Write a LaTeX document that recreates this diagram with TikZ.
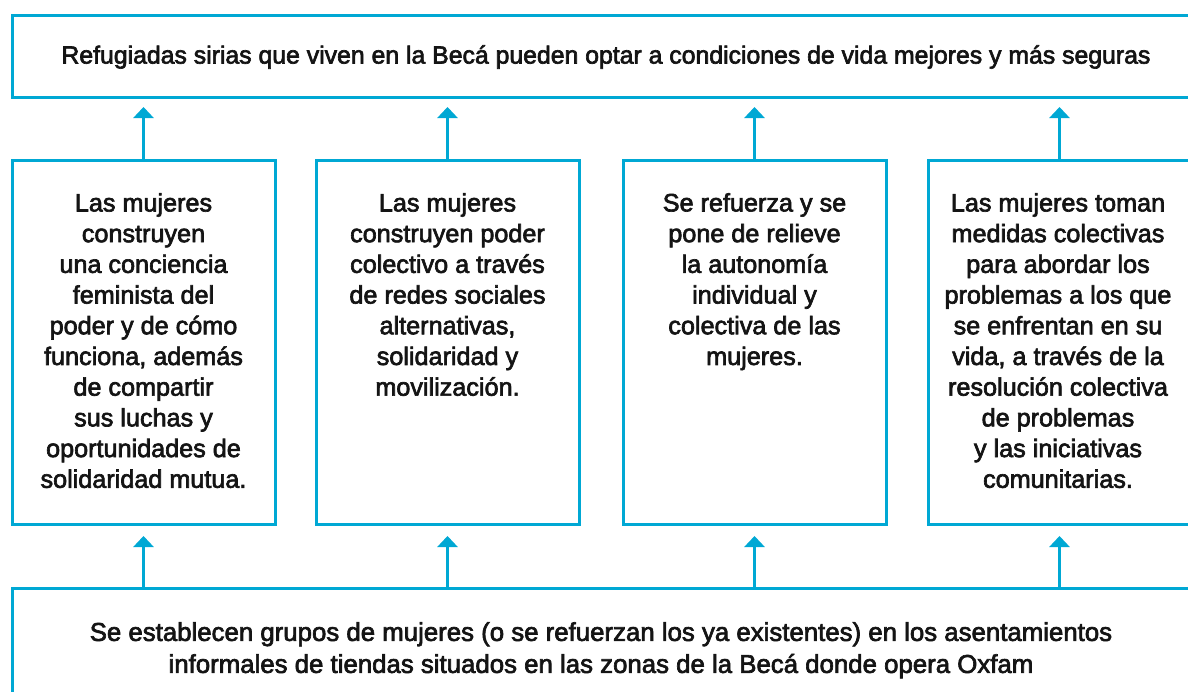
\documentclass[tikz,border=0pt]{standalone}
\usepackage{fontspec}
\setmainfont{Liberation Sans}[FakeBold=2.6]
\usetikzlibrary{arrows.meta}
\definecolor{oxblue}{RGB}{0,168,212}
\definecolor{txt}{RGB}{20,20,20}
\begin{document}
\begin{tikzpicture}[x=1pt,y=-1pt,
  frame/.style={draw=oxblue,line width=3pt,inner sep=0pt},
  midbox/.style={frame,minimum width=263pt,minimum height=364pt},
  boxtext/.style={anchor=north,inner sep=0pt,align=center,text=txt,
    font=\fontsize{25.2}{30.7}\selectfont},
  arr/.style={draw=oxblue,line width=3pt,-{Triangle[width=20pt,length=11pt]}}]
\useasboundingbox (0,0) rectangle (1188,691);
\clip (0,0) rectangle (1188,691);
% top box
\node[frame,minimum width=1188pt,minimum height=82pt] (top) at (606,56) {};
\node[boxtext,anchor=center,font=\fontsize{24.8}{30}\selectfont] (toptext) at (606,57)
  {Refugiadas sirias que viven en la Becá pueden optar a condiciones de vida mejores y más seguras};
% middle boxes
\node[midbox] (b1) at (143.5,342) {};
\node[midbox] (b2) at (447.5,342) {};
\node[midbox] (b3) at (754.5,342) {};
\node[midbox] (b4) at (1059.5,342) {};
\node[boxtext] (t1) at (143.5,193) {Las mujeres\\construyen\\una conciencia\\feminista del\\poder y de cómo\\funciona, además\\de compartir\\sus luchas y\\oportunidades de\\solidaridad mutua.};
\node[boxtext] (t2) at (447.5,193) {Las mujeres\\construyen poder\\colectivo a través\\de redes sociales\\alternativas,\\solidaridad y\\movilización.};
\node[boxtext] (t3) at (754.5,193) {Se refuerza y se\\pone de relieve\\la autonomía\\individual y\\colectiva de las\\mujeres.};
\node[boxtext] (t4) at (1058,193) {Las mujeres toman\\medidas colectivas\\para abordar los\\problemas a los que\\se enfrentan en su\\vida, a través de la\\resolución colectiva\\de problemas\\y las iniciativas\\comunitarias.};
% bottom box
\node[frame,minimum width=1178pt,minimum height=200pt] (bot) at (601,688) {};
\node[boxtext,font=\fontsize{25.8}{32}\selectfont] (bottext) at (601,622)
  {Se establecen grupos de mujeres (o se refuerzan los ya existentes) en los asentamientos\\informales de tiendas situados en las zonas de la Becá donde opera Oxfam};
% arrow tips
\coordinate (uptip) at (0,107);
\coordinate (lowtip) at (0,536);
\foreach \b in {b1,b2,b3,b4}{
  \draw[arr] (\b.north) -- (\b.north |- uptip);
  \draw[arr] (\b.south |- bot.north) -- (\b.south |- lowtip);
}
\end{tikzpicture}
\end{document}
